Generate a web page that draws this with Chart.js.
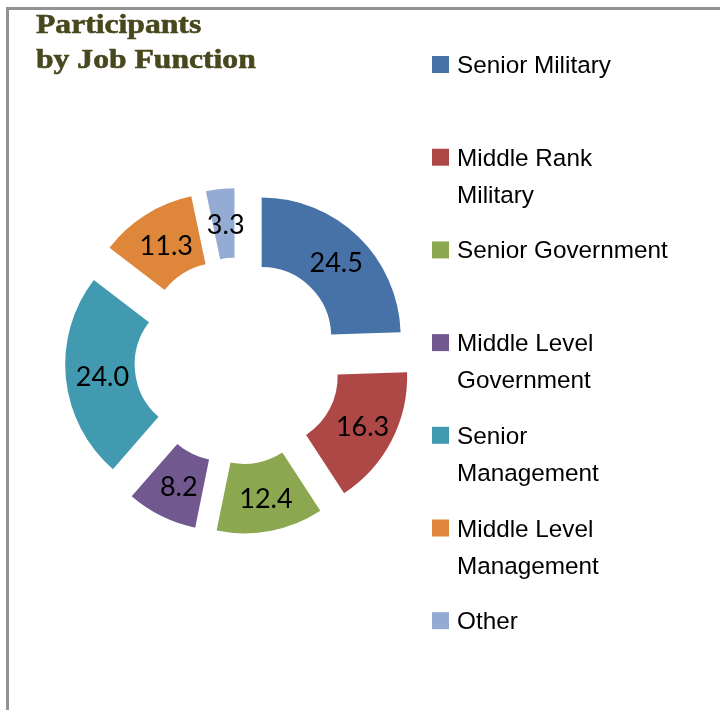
<!DOCTYPE html>
<html>
<head>
<meta charset="utf-8">
<script src="https://cdn.jsdelivr.net/npm/chart.js@4/dist/chart.umd.min.js"></script>
<style>
  html, body { margin: 0; padding: 0; background: #ffffff; }
  #wrap { position: relative; width: 720px; height: 710px; }
  canvas { display: block; }
</style>
</head>
<body>
<div id="wrap"><canvas id="c" width="720" height="710"></canvas></div>
<script>
// ---- data ----
const titleLines = ["Participants", "by Job Function"];
const categories = [
  ["Senior Military"],
  ["Middle Rank", "Military"],
  ["Senior Government"],
  ["Middle Level", "Government"],
  ["Senior", "Management"],
  ["Middle Level", "Management"],
  ["Other"]
];
const values = [24.5, 16.3, 12.4, 8.2, 24.0, 11.3, 3.3];
const colors = ["#4672a8", "#ae4846", "#8ba74f", "#715990", "#429ab0", "#de8639", "#94acd3"];

// ---- layout / style constants ----
const EXPLODE = 34;

const explodePlugin = {
  id: 'explode',
  beforeDatasetDraw(chart, args) {
    const ctx = chart.ctx;
    args.meta.data.forEach(arc => {
      const mid = (arc.startAngle + arc.endAngle) / 2;
      ctx.save();
      ctx.translate(Math.cos(mid) * EXPLODE, Math.sin(mid) * EXPLODE);
      arc.draw(ctx, chart.chartArea);
      ctx.restore();
    });
    return false;
  },
  afterDatasetsDraw(chart) {
    const ctx = chart.ctx;
    const meta = chart.getDatasetMeta(0);
    ctx.save();
    ctx.font = '27px Lato, "Open Sans", sans-serif';
    ctx.fillStyle = '#000000';
    ctx.textAlign = 'center';
    ctx.textBaseline = 'middle';
    meta.data.forEach((arc, i) => {
      const mid = (arc.startAngle + arc.endAngle) / 2;
      const p = arc.tooltipPosition();
      const x = p.x + Math.cos(mid) * EXPLODE + 2;
      const y = p.y + Math.sin(mid) * EXPLODE + 2;
      ctx.fillText(chart.data.datasets[0].data[i].toFixed(1), x, y);
    });
    ctx.restore();
  }
};

const decorPlugin = {
  id: 'decor',
  afterDraw(chart) {
    const ctx = chart.ctx;
    ctx.save();
    // frame
    ctx.strokeStyle = '#929292';
    ctx.lineWidth = 3;
    ctx.beginPath();
    ctx.moveTo(7.5, 711);
    ctx.lineTo(7.5, 8.5);
    ctx.lineTo(721, 8.5);
    ctx.stroke();

    // title
    ctx.fillStyle = '#48481f';
    ctx.strokeStyle = '#48481f';
    ctx.lineWidth = 0.6;
    ctx.font = 'bold 28px "Liberation Serif", "Times New Roman", serif';
    ctx.textBaseline = 'alphabetic';
    ctx.textAlign = 'left';
    titleLines.forEach((t, i) => {
      ctx.save();
      ctx.translate(36, 33 + i * 35);
      ctx.scale(1.13, 1);
      ctx.fillText(t, 0, 0);
      ctx.strokeText(t, 0, 0);
      ctx.restore();
    });

    // legend
    ctx.font = '24.3px "Liberation Sans", Arial, sans-serif';
    const bg = chart.data.datasets[0].backgroundColor;
    chart.data.labels.forEach((lab, i) => {
      const base = 73 + i * 92.7;
      ctx.fillStyle = bg[i];
      ctx.fillRect(432, base - 17, 17, 17);
      ctx.fillStyle = '#000000';
      const lines = Array.isArray(lab) ? lab : [lab];
      lines.forEach((ln, j) => {
        ctx.fillText(ln, 457, base + j * 37);
      });
    });
    ctx.restore();
  }
};

new Chart(document.getElementById('c'), {
  type: 'doughnut',
  data: {
    labels: categories,
    datasets: [{
      data: values,
      backgroundColor: colors,
      borderWidth: 0
    }]
  },
  options: {
    responsive: false,
    animation: false,
    radius: 139,
    cutout: '50%',
    layout: { padding: { left: 2, right: 246, top: 12, bottom: 0 } },
    plugins: {
      legend: { display: false },
      title: { display: false },
      tooltip: { enabled: false }
    }
  },
  plugins: [explodePlugin, decorPlugin]
});
</script>
</body>
</html>
